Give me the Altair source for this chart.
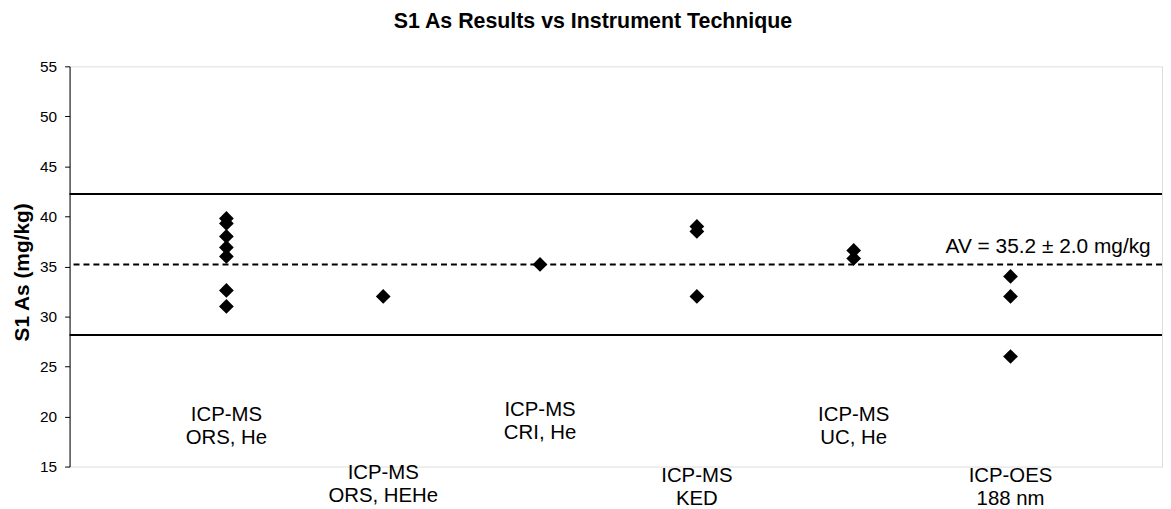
import altair as alt
import pandas as pd

# ---- data ----
technique_labels = ["ICP-MS\nORS, He", "ICP-MS\nORS, HEHe", "ICP-MS\nCRI, He",
                    "ICP-MS\nKED", "ICP-MS\nUC, He", "ICP-OES\n188 nm"]
technique_pos = [1, 2, 3, 4, 5, 6]
label_y = [19.6, 13.8, 20.1, 13.5, 19.6, 13.5]

ors_he = [39.8, 39.3, 38.0, 36.9, 36.0, 32.6, 31.0]
ors_hehe = [32.0]
cri_he = [35.2]
ked = [39.0, 38.5, 32.0]
uc_he = [36.6, 35.8]
oes_188 = [34.0, 32.0, 26.0]

assigned_value = 35.2
limit_upper = 42.24
limit_lower = 28.16
av_text = "AV = 35.2 ± 2.0 mg/kg"
av_text_pos = [6.894, 36.37]

y_ticks = [15, 20, 25, 30, 35, 40, 45, 50, 55]

# ---- tables ----
series = [ors_he, ors_hehe, cri_he, ked, uc_he, oes_188]
rows = []
for pos, vals in zip(technique_pos, series):
    for v in vals:
        rows.append({"pos": pos, "value": v})
points_df = pd.DataFrame(rows)
labels_df = pd.DataFrame({"pos": technique_pos, "y": label_y, "label": technique_labels})
lines_df = pd.DataFrame({"y": [limit_upper, limit_lower]})
av_df = pd.DataFrame({"y": [assigned_value]})
avtxt_df = pd.DataFrame({"x": [av_text_pos[0]], "y": [av_text_pos[1]], "t": [av_text]})

FONT = "Liberation Sans"
xscale = alt.Scale(domain=[0, 6.966], nice=False, zero=False)
yscale = alt.Scale(domain=[15, 55], nice=False, zero=False)

yaxis = alt.Axis(values=y_ticks, grid=False, tickSize=5, tickColor="black", tickWidth=1,
                 domainColor="black", domainWidth=1, labelFont=FONT, labelFontSize=15.5,
                 labelColor="black", labelPadding=8, title="S1 As (mg/kg)",
                 titleFont=FONT, titleFontSize=21, titleFontWeight="bold", titleColor="black",
                 titleX=-47, titleY=207, titleBaseline="middle", titleAlign="center")

pts = alt.Chart(points_df).mark_point(shape="diamond", filled=True, color="black",
                                      size=220, opacity=1).encode(
    x=alt.X("pos:Q", scale=xscale, axis=None),
    y=alt.Y("value:Q", scale=yscale, axis=yaxis),
)

limits = alt.Chart(lines_df).mark_rule(color="black", strokeWidth=2).encode(
    y=alt.Y("y:Q", scale=yscale))

av_line = alt.Chart(av_df).mark_rule(color="black", strokeWidth=2,
                                     strokeDash=[6, 4]).encode(
    y=alt.Y("y:Q", scale=yscale))

labels = alt.Chart(labels_df).mark_text(font=FONT, fontSize=20.5, color="black",
                                        align="center", baseline="alphabetic",
                                        lineBreak="\n", lineHeight=23.5).encode(
    x=alt.X("pos:Q", scale=xscale),
    y=alt.Y("y:Q", scale=yscale),
    text="label:N")

av_label = alt.Chart(avtxt_df).mark_text(font=FONT, fontSize=21, color="black",
                                         align="right", baseline="alphabetic").encode(
    x=alt.X("x:Q", scale=xscale),
    y=alt.Y("y:Q", scale=yscale),
    text="t:N")

chart = alt.layer(limits, av_line, pts, labels, av_label).properties(
    width=1100, height=403,
    autosize="none",
    padding={"left": 62, "top": 57, "right": 1, "bottom": 42},
    title=alt.TitleParams("S1 As Results vs Instrument Technique", font=FONT,
                          fontSize=21.5, fontWeight="bold", color="black",
                          anchor="middle", dx=-23, dy=25, baseline="alphabetic",
                          frame="group", offset=35),
).configure_view(stroke=None).configure(background="white")

chart.save("out.html", embed_options={"renderer": "svg", "actions": False})
